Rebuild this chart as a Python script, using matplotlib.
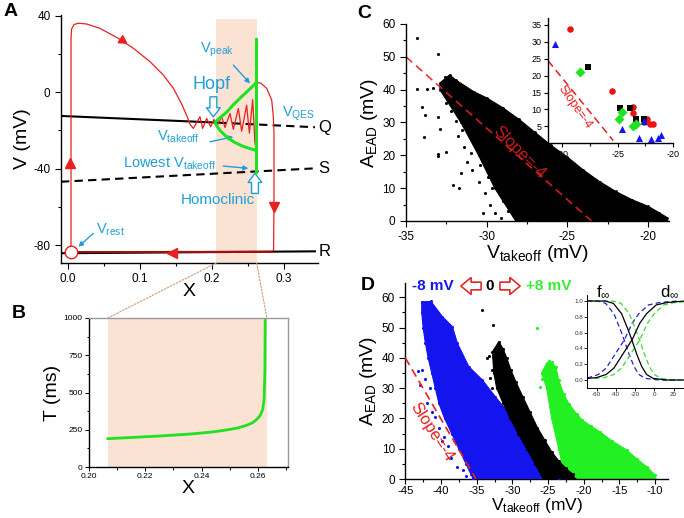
import numpy as np
import matplotlib
matplotlib.use('Agg')
import matplotlib.pyplot as plt
from matplotlib.patches import ConnectionPatch
from matplotlib.ticker import MultipleLocator

plt.rcParams['font.family'] = ['Liberation Sans', 'DejaVu Sans']
plt.rcParams['mathtext.fontset'] = 'custom'
plt.rcParams['mathtext.rm'] = 'Liberation Sans'
plt.rcParams['mathtext.default'] = 'regular'
plt.rcParams['axes.linewidth'] = 1.0
plt.rcParams['axes.unicode_minus'] = False

RED = '#e8201f'
GREEN = '#22e022'
CYAN = '#1f9fd8'
SHADE = '#fae3d3'
BLUE = '#1414ee'

# ---------------- panel A data ----------------
traj_x = [0.0042, 0.0042, 0.0050, 0.0083, 0.0144, 0.0259, 0.0444, 0.0699, 0.0907, 0.1139,
          0.1324, 0.1463, 0.1579, 0.1648, 0.1694, 0.1740, 0.1833, 0.1870, 0.1926, 0.1981,
          0.2028, 0.2065, 0.2134, 0.2180, 0.2250, 0.2296, 0.2366, 0.2412, 0.2481, 0.2519,
          0.2565, 0.2595, 0.2612, 0.2620, 0.2635, 0.2680, 0.2760, 0.2829, 0.2852, 0.2861,
          0.2861, 0.2855, 0.2830, 0.0042]
traj_v = [-83.5, 28.0, 33.0, 35.3, 36.0, 35.6, 33.3, 28.1, 22.9, 15.9,
          8.9, 2.0, -6.3, -12.2, -16.8, -19.0, -12.9, -19.0, -13.8, -18.2,
          -14.3, -18.2, -12.9, -18.5, -11.2, -19.5, -8.6, -20.5, -6.9, -21.5,
          -4.0, -26.0, -30.0, 0.0, 5.0, 4.6, 1.9, -4.2, -12.9, -21.6,
          -56.5, -82.6, -83.3, -83.5]
bell_x = [0.2615, 0.2546, 0.2480, 0.2407, 0.2300, 0.2204, 0.2130, 0.2080, 0.2042,
          0.2080, 0.2130, 0.2204, 0.2300, 0.2400, 0.2480, 0.2546, 0.2590, 0.2615]
bell_v = [-30.5, -29.8, -29.0, -28.0, -26.0, -23.5, -20.8, -18.5, -16.0,
          -14.5, -12.8, -10.5, -6.5, -2.8, 0.0, 2.4, 4.0, 5.0]
hom_x = [0.2615, 0.2615]
hom_v = [-41.7, 28.0]
q_solid_x, q_solid_v = [-0.0097, 0.209], [-12.5, -16.0]
q_dash_x, q_dash_v = [0.209, 0.343], [-16.0, -18.4]
s_x, s_v = [-0.0097, 0.343], [-46.9, -39.9]
r_x, r_v = [-0.0097, 0.343], [-84.3, -83.3]
shade_lo, shade_hi = 0.206, 0.262

# ---------------- panel B data ----------------
period_x = [0.2067, 0.215, 0.225, 0.235, 0.240, 0.245, 0.250, 0.253, 0.256, 0.258,
            0.2595, 0.2608, 0.2617, 0.2622, 0.2625, 0.2626]
period_t = [190, 198, 208, 220, 228, 238, 252, 263, 280, 296,
            318, 345, 385, 450, 650, 1000]
shadeB_lo, shadeB_hi = 0.2067, 0.2632

# ---------------- panel C data ----------------
c_cloud_x = [-32.9, -32.3, -31.9, -30.8, -30.0, -29.0, -28.0, -27.0, -26.0, -25.0, -24.0,
             -23.0, -22.0, -21.0, -20.0, -19.3, -18.8, -18.8, -28.2, -29.5, -30.5, -31.6,
             -32.9]
c_cloud_y = [42.0, 44.5, 42.9, 39.4, 37.5, 34.5, 31.0, 27.0, 23.0, 19.5, 15.5,
             12.0, 9.0, 6.5, 4.5, 2.5, 1.0, 0.0, 0.0, 10.0, 20.0, 30.0,
             40.0]
c_dots_x = [-34.3, -33.0, -34.3, -33.7, -33.3, -34.0, -33.8, -33.9, -33.0, -32.9, -33.0,
            -33.0, -32.5, -32.1, -31.7, -31.6, -30.2, -29.1, -32.6, -32.4, -32.2, -31.8,
            -31.4, -31.2, -30.9, -30.5, -30.1, -29.8, -29.5, -31.9, -32.5, -31.5, -30.8,
            -31.0, -30.4, -29.9, -29.7, -29.0, -28.7, -32.0, -31.2, -30.6]
c_dots_y = [55.6, 50.8, 40.3, 40.3, 40.6, 34.6, 32.3, 25.7, 31.7, 28.1, 20.5,
            19.7, 21.0, 10.9, 9.9, 14.5, 2.3, 0.8, 44.0, 38.2, 33.5, 26.0,
            22.5, 18.0, 15.5, 12.0, 8.5, 5.0, 2.5, 30.5, 35.8, 27.8, 24.5,
            20.8, 17.2, 13.5, 10.0, 6.0, 3.0, 36.5, 32.0, 28.5]
c_slope_x, c_slope_y = [-35.0, -23.5], [50.0, 0.0]

# inset C: experimental groups
red_x = [-29.34, -25.52, -23.66, -23.66, -22.31, -22.6, -22.07, -21.85]
red_y = [33.8, 15.3, 10.8, 8.9, 7.1, 6.3, 5.6, 5.6]
sq_x = [-27.72, -24.77, -23.87, -23.33, -22.61]
sq_y = [22.5, 10.5, 10.5, 7.1, 7.1]
dia_x = [-28.38, -24.62, -24.86, -23.63, -23.33]
dia_y = [21.2, 9.2, 7.3, 5.1, 5.6]
tri_x = [-30.63, -24.6, -22.6, -23.04, -21.98, -21.35, -21.1]
tri_y = [29.3, 4.1, 6.5, 1.66, 1.3, 1.66, 2.45]
ci_slope_x, ci_slope_y = [-31.3, -25.4], [24.4, 0.8]

# ---------------- panel D data ----------------
blue_cloud_x = [-42.7, -41.4, -39.8, -38.4, -37.7, -36.1, -34.2, -32.4, -30.5, -28.6, -26.8,
                -24.9, -24.0, -23.5, -35.5, -36.5, -37.5, -38.5, -39.5, -40.3, -40.8, -41.3,
                -41.8, -42.2, -42.5, -42.7]
blue_cloud_y = [58.5, 58.6, 53.6, 50.3, 44.8, 37.1, 32.7, 27.2, 21.7, 16.2, 10.7,
                5.2, 1.3, 0.0, 0.0, 5.0, 10.0, 15.0, 20.0, 25.0, 30.0, 35.0,
                40.0, 45.0, 50.0, 55.0]
blue_dots_x = [-42.6, -41.9, -41.5, -40.8, -39.6, -39.0, -38.6, -37.8, -36.9, -36.5,
               -42.3, -41.2, -40.3, -39.9, -43.2, -42.9, -35.8, -35.4]
blue_dots_y = [36.0, 25.0, 30.0, 20.5, 14.0, 11.0, 7.0, 4.0, 3.0, 1.0,
               33.0, 22.0, 17.0, 12.5, 35.5, 31.0, 1.5, 0.6]
black_cloud_x = [-32.8, -31.9, -31.3, -30.8, -30.2, -29.5, -28.5, -27.5, -26.5, -25.5, -24.5,
                 -23.5, -22.5, -21.5, -21.2, -25.7, -26.8, -28.0, -29.2, -30.3, -31.3, -32.2,
                 -32.6]
black_cloud_y = [42.0, 45.3, 43.0, 40.0, 36.0, 32.0, 27.0, 22.0, 17.0, 13.0, 9.0,
                 6.0, 3.5, 1.5, 0.0, 0.0, 5.0, 10.0, 15.0, 20.0, 25.0, 30.0,
                 35.0]
black_dots_x = [-34.2, -32.7, -33.3, -32.4, -33.6, -32.9, -33.1, -32.9]
black_dots_y = [55.8, 50.9, 40.5, 40.5, 39.8, 36.0, 33.5, 30.0]
green_cloud_x = [-25.9, -25.2, -24.5, -23.9, -23.5, -22.8, -22.1, -21.0, -20.2, -19.0, -17.7,
                 -16.0, -14.0, -12.5, -11.2, -10.0, -10.0, -22.6, -23.5, -24.5, -25.2]
green_cloud_y = [35.0, 38.2, 38.5, 37.0, 32.6, 28.0, 24.9, 21.5, 19.4, 17.5, 15.5,
                 12.5, 9.6, 6.5, 4.1, 1.3, 0.0, 0.0, 10.0, 20.0, 30.0]
green_dots_x = [-26.6, -26.2, -25.5, -24.8, -25.8]
green_dots_y = [50.0, 30.5, 36.0, 38.8, 33.0]
d_slope_x, d_slope_y = [-45.0, -35.1], [40.0, 0.0]

# inset D: steady-state gating curves (control); shifted copies +/- 8 mV
gate_v = [-70, -60, -51, -42.5, -34, -27, -23.4, -18, -13, -8, -1, 13, 32]
f_inf = [1.0, 1.0, 1.0, 0.97, 0.84, 0.63, 0.51, 0.32, 0.17, 0.07, 0.02, 0.0, 0.0]
d_v = [-70, -60, -50, -42, -32, -23, -15, -8, 2, 13, 32]
d_inf = [0.02, 0.03, 0.07, 0.15, 0.34, 0.51, 0.72, 0.84, 0.95, 0.98, 1.0]
shift = 8

W, H = 684, 518
fig = plt.figure(figsize=(W / 100, H / 100), dpi=100)


def box(l, t, r, b):
    return [l / W, 1 - b / H, (r - l) / W, (b - t) / H]


def style(ax, size):
    ax.spines['top'].set_visible(False)
    ax.spines['right'].set_visible(False)
    ax.tick_params(which='both', direction='out', labelsize=size, width=0.8)
    ax.tick_params(which='major', length=4)
    ax.tick_params(which='minor', length=2.5)


# ---------------- A ----------------
axA = fig.add_axes(box(61, 15, 318, 263))
axA.set_xlim(-0.0097, 0.3472)
axA.set_ylim(-89.4, 40.3)
style(axA, 8.5)
axA.xaxis.set_major_locator(MultipleLocator(0.1))
axA.xaxis.set_minor_locator(MultipleLocator(0.05))
axA.yaxis.set_major_locator(MultipleLocator(40))
axA.yaxis.set_minor_locator(MultipleLocator(20))
axA.xaxis.set_major_formatter(lambda v, p: '%.1f' % v)
axA.axvspan(shade_lo, shade_hi, ymin=0, ymax=0.985, color=SHADE, lw=0, zorder=0)
axA.plot(r_x, r_v, color='black', lw=1.5, zorder=2)
axA.plot(q_solid_x, q_solid_v, color='black', lw=1.5, zorder=2)
axA.plot(q_dash_x, q_dash_v, color='black', lw=1.5, ls=(0, (4, 2.5)), zorder=2)
axA.plot(s_x, s_v, color='black', lw=1.5, ls=(0, (4, 2.5)), zorder=2)
axA.plot(traj_x, traj_v, color=RED, lw=0.9, zorder=3)
axA.plot([0.0042, 0.283], [-83.6, -83.6], color='#a01010', lw=1.4, zorder=3)
axA.plot(bell_x, bell_v, color=GREEN, lw=2.2, zorder=4)
axA.plot(hom_x, hom_v, color=GREEN, lw=2.2, zorder=4)
axA.plot([0.003], [-37.3], marker='^', color=RED, ms=7, zorder=5)
axA.plot([0.0745], [27.2], marker=(3, 0, -123), color=RED, ms=7, zorder=5)
axA.plot([0.2861], [-60.3], marker='v', color=RED, ms=7, zorder=5)
axA.plot([0.144], [-84.0], marker='<', color=RED, ms=7, zorder=5)
axA.plot([0.0045], [-83.6], marker='o', mfc='white', mec=RED, ms=9, mew=1.0, zorder=6,
         clip_on=False)
axA.set_xlabel('X', fontsize=14, labelpad=-2)
axA.set_ylabel('V (mV)', fontsize=14, labelpad=2)
for lab, y in [('Q', -18.6), ('S', -40.0), ('R', -83.6)]:
    axA.text(0.348, y, lab, fontsize=12, va='center', ha='left', clip_on=False)

hollow = dict(arrowstyle='simple,head_width=0.9,head_length=0.6,tail_width=0.45',
              fc='white', ec=CYAN, lw=1.0, shrinkA=0, shrinkB=0, mutation_scale=11)
thin = dict(arrowstyle='-|>', color=CYAN, lw=1.0, shrinkA=0, shrinkB=0, mutation_scale=7)
axA.annotate('', xy=(0.2019, -13.0), xytext=(0.2019, -2.5), arrowprops=hollow)
axA.annotate('', xy=(0.2597, -42.5), xytext=(0.2597, -53.0), arrowprops=hollow)
axA.text(0.1996, 3.7, 'Hopf', color=CYAN, fontsize=13, ha='center', va='center')
axA.text(0.2075, 22.0, r'V$_{peak}$', color=CYAN, fontsize=10.5, ha='center', va='center')
axA.annotate('', xy=(0.2528, 4.5), xytext=(0.2296, 14.1), arrowprops=thin)
axA.text(0.3199, -11.5, r'V$_{QES}$', color=CYAN, fontsize=10.5, ha='center', va='center')
axA.text(0.1532, -23.4, r'V$_{takeoff}$', color=CYAN, fontsize=10.5, ha='center', va='center')
axA.annotate('', xy=(0.2296, -23.4), xytext=(0.1972, -26.0), arrowprops=thin)
axA.text(0.1417, -37.3, r'Lowest V$_{takeoff}$', color=CYAN, fontsize=10.5, ha='center',
         va='center')
axA.annotate('', xy=(0.2505, -39.9), xytext=(0.2157, -38.7), arrowprops=thin)
axA.text(0.2088, -56.5, 'Homoclinic', color=CYAN, fontsize=11, ha='center', va='center')
axA.text(0.0583, -72.2, r'V$_{rest}$', color=CYAN, fontsize=10.5, ha='center', va='center')
axA.annotate('', xy=(0.0144, -80.9), xytext=(0.0352, -73.9), arrowprops=thin)

# ---------------- B ----------------
axB = fig.add_axes(box(89, 318, 288, 467))
axB.set_xlim(0.20, 0.2707)
axB.set_ylim(0, 1000)
axB.tick_params(which='both', direction='out', labelsize=6, width=0.7, pad=1.5)
axB.tick_params(which='major', length=3)
axB.tick_params(which='minor', length=1.8)
axB.xaxis.set_major_locator(MultipleLocator(0.02))
axB.xaxis.set_minor_locator(MultipleLocator(0.01))
axB.yaxis.set_major_locator(MultipleLocator(250))
axB.yaxis.set_minor_locator(MultipleLocator(125))
for s in ['top', 'right']:
    axB.spines[s].set_color('#9a9a9a')
axB.axvspan(shadeB_lo, shadeB_hi, color=SHADE, lw=0, zorder=0)
axB.plot(period_x, period_t, color=GREEN, lw=2.0)
axB.set_xlabel('X', fontsize=14, labelpad=0)
axB.set_ylabel('T (ms)', fontsize=14, labelpad=2)

for xa, xb in [(shade_lo, shadeB_lo), (shade_hi, shadeB_hi)]:
    con = ConnectionPatch(xyA=(xa, -89.4), coordsA=axA.transData, xyB=(xb, 1000),
                          coordsB=axB.transData, ls=(0, (1.5, 1.5)), color='#d09a78', lw=0.8)
    fig.add_artist(con)

# ---------------- C ----------------
axC = fig.add_axes(box(406, 24, 669, 221))
axC.set_xlim(-35, -18.7)
axC.set_ylim(0, 60)
style(axC, 8.5)
axC.xaxis.set_major_locator(MultipleLocator(5))
axC.xaxis.set_minor_locator(MultipleLocator(2.5))
axC.yaxis.set_major_locator(MultipleLocator(10))
axC.yaxis.set_minor_locator(MultipleLocator(5))
axC.fill(c_cloud_x, c_cloud_y, color='black', lw=0.8)
axC.scatter(c_cloud_x, c_cloud_y, s=4, color='black', lw=0)
axC.scatter(c_dots_x, c_dots_y, s=5, color='black', lw=0)
axC.plot(c_slope_x, c_slope_y, color=RED, lw=1.2, ls=(0, (5, 3)), alpha=0.9)
axC.text(-28.0, 21.0, 'Slope=-4', color=RED, fontsize=12, rotation=-45, ha='center',
         va='center', alpha=0.85)
axC.set_xlabel(r'V$_{takeoff}$ (mV)', fontsize=14, labelpad=0)
axC.set_ylabel(r'A$_{EAD}$ (mV)', fontsize=14, labelpad=2)

axCi = fig.add_axes(box(548, 18, 673, 143.3))
axCi.set_xlim(-31.3, -20)
axCi.set_ylim(0, 37)
style(axCi, 6.5)
axCi.tick_params(which='major', length=3, pad=1.5)
axCi.xaxis.set_major_locator(MultipleLocator(5))
axCi.xaxis.set_minor_locator(MultipleLocator(2.5))
axCi.yaxis.set_major_locator(MultipleLocator(5))
axCi.plot(ci_slope_x, ci_slope_y, color=RED, lw=1.1, ls=(0, (5, 3)))
axCi.text(-28.9, 10.8, 'Slope=-4', color=RED, fontsize=9, rotation=-55, ha='center',
          va='center')
axCi.scatter(red_x, red_y, s=22, color='#ee1111', marker='o', lw=0, zorder=3)
axCi.scatter(sq_x, sq_y, s=20, color='black', marker='s', lw=0, zorder=3)
axCi.scatter(dia_x, dia_y, s=26, color=GREEN, marker='D', lw=0, zorder=3)
axCi.scatter(tri_x, tri_y, s=26, color=BLUE, marker='^', lw=0, zorder=3)

# ---------------- D ----------------
axD = fig.add_axes(box(405.3, 283, 668, 479))
axD.set_xlim(-45, -8.2)
axD.set_ylim(0, 64.7)
style(axD, 8.5)
axD.tick_params(axis='x', which='major', length=3.5, pad=1.5, labelsize=8.2)
axD.tick_params(axis='x', which='minor', length=2)
axD.xaxis.set_major_locator(MultipleLocator(5))
axD.xaxis.set_minor_locator(MultipleLocator(2.5))
axD.yaxis.set_major_locator(MultipleLocator(10))
axD.yaxis.set_minor_locator(MultipleLocator(5))
axD.fill(green_cloud_x, green_cloud_y, color='#22f022', lw=0.8, zorder=2)
axD.scatter(green_cloud_x + green_dots_x, green_cloud_y + green_dots_y, s=5,
            color='#22f022', lw=0, zorder=2)
axD.fill(blue_cloud_x, blue_cloud_y, color=BLUE, lw=0.8, zorder=3)
axD.scatter(blue_cloud_x + blue_dots_x, blue_cloud_y + blue_dots_y, s=5, color=BLUE,
            lw=0, zorder=3)
axD.fill(black_cloud_x, black_cloud_y, color='black', lw=0.8, zorder=4)
axD.scatter(black_cloud_x + black_dots_x, black_cloud_y + black_dots_y, s=5,
            color='black', lw=0, zorder=4)
axD.plot(d_slope_x, d_slope_y, color=RED, lw=1.2, ls=(0, (5, 3)), zorder=5)
axD.text(-41.3, 15.5, 'Slope=-4', color=RED, fontsize=12, rotation=-57, ha='center',
         va='center', zorder=5)
axD.set_xlabel(r'V$_{takeoff}$ (mV)', fontsize=12.5, labelpad=0)
axD.set_ylabel(r'A$_{EAD}$ (mV)', fontsize=14, labelpad=2)

fig.text(433 / W, 1 - 286 / H, '-8 mV', color=BLUE, fontsize=11, fontweight='bold',
         ha='center', va='center')
fig.text(490 / W, 1 - 286 / H, '0', color='black', fontsize=11, fontweight='bold',
         ha='center', va='center')
fig.text(549 / W, 1 - 286 / H, '+8 mV', color='#33ee33', fontsize=11, fontweight='bold',
         ha='center', va='center')
red_hollow = dict(arrowstyle='simple,head_width=1.0,head_length=0.6,tail_width=0.45',
                  fc='white', ec=RED, lw=1.0, shrinkA=0, shrinkB=0, mutation_scale=12)
fig.add_artist(axD.annotate('', xy=(461, H - 286), xytext=(481, H - 286),
                            xycoords='figure pixels', textcoords='figure pixels',
                            arrowprops=red_hollow, annotation_clip=False))
fig.add_artist(axD.annotate('', xy=(520, H - 286), xytext=(500, H - 286),
                            xycoords='figure pixels', textcoords='figure pixels',
                            arrowprops=red_hollow, annotation_clip=False))

axDi = fig.add_axes(box(587.3, 295, 684, 388.3))
axDi.set_xlim(-69.6, 30.9)
axDi.set_ylim(-0.105, 1.076)
style(axDi, 4.5)
axDi.tick_params(which='both', length=2, pad=1, width=0.6, labelcolor='#333333')
axDi.xaxis.set_major_locator(MultipleLocator(20))
axDi.yaxis.set_major_locator(MultipleLocator(0.2))
axDi.spines['left'].set_linewidth(0.7)
axDi.spines['bottom'].set_linewidth(0.7)
gv = np.array(gate_v)
dv = np.array(d_v)
for off, col, ls in [(-shift, '#2020cc', (0, (4, 2.5))), (shift, '#33dd33', (0, (4, 2.5)))]:
    axDi.plot(gv + off, f_inf, color=col, lw=0.9, ls=ls)
    axDi.plot(dv + off, d_inf, color=col, lw=0.9, ls=ls)
axDi.plot(gv, f_inf, color='black', lw=0.9)
axDi.plot(dv, d_inf, color='black', lw=0.9)
fig.text(603 / W, 1 - 292 / H, r'f$_{\infty}$', fontsize=12, ha='center', va='center')
fig.text(670 / W, 1 - 292 / H, r'd$_{\infty}$', fontsize=12, ha='center', va='center')

# panel letters
for lab, x, y in [('A', 4, 12), ('B', 12, 313), ('C', 357, 14), ('D', 361, 286)]:
    fig.text(x / W, 1 - y / H, lab, fontsize=14, fontweight='bold', ha='left', va='center')

fig.savefig('out.png', dpi=100)
